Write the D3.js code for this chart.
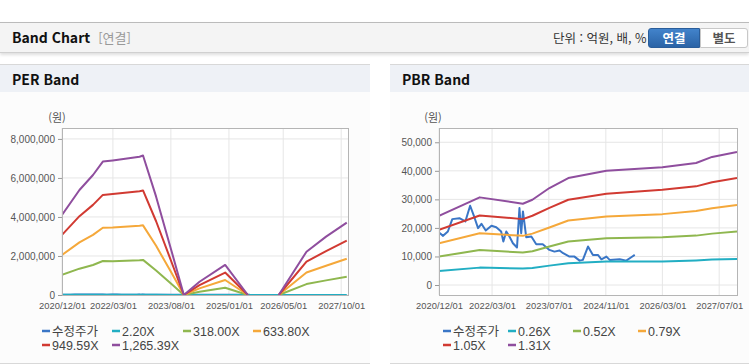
<!DOCTYPE html>
<html lang="ko">
<head>
<meta charset="utf-8">
<title>Band Chart</title>
<script src="https://cdn.jsdelivr.net/npm/d3@7"></script>
<style>
  body { margin: 0; width: 749px; height: 364px; overflow: hidden; position: relative; background: #fff;
         font-family: "Noto Sans CJK KR", "Liberation Sans", sans-serif; }
  .top-bar { position: absolute; left: 0; top: 22px; width: 749px; height: 29px; background: #f4f4f4;
             border-top: 1px solid #bbb; border-bottom: 1px solid #d0d0d0; box-shadow: 0 2px 3px rgba(0,0,0,0.13); }
  .top-bar__title { position: absolute; left: 12px; top: 6px; font-size: 14px; font-weight: bold; color: #111; line-height: 17px; }
  .top-bar__sub { color: #999; font-weight: normal; font-size: 13px; margin-left: 8px; }
  .top-bar__unit { position: absolute; left: 553px; top: 7px; font-size: 12.5px; color: #333; line-height: 16px; }
  .btn { position: absolute; top: 5px; height: 18px; font-size: 12.5px; font-weight: bold; text-align: center; line-height: 18px; }
  .btn--on { left: 648px; width: 50px; background: linear-gradient(#4283cb, #2a63a6); border: 1px solid #2a5d9a; color: #fff; border-radius: 3px 0 0 3px; }
  .btn--off { left: 700px; width: 46px; background: #fff; border: 1px solid #c8c8c8; color: #555; border-radius: 0 3px 3px 0; }
  .panel { position: absolute; top: 64px; height: 298px; background: #fcfcfc; border-top: 1px solid #d8d8d8; border-bottom: 1px solid #d8d8d8; }
  .panel__head { height: 27px; background: #eef1f6; }
  .panel__head span { position: absolute; left: 12px; top: 6px; font-size: 14px; font-weight: bold; color: #111; line-height: 17px; }
  svg { position: absolute; left: 0; top: 0; }
</style>
</head>
<body>
  <div class="top-bar">
    <div class="top-bar__title">Band Chart<span class="top-bar__sub">[연결]</span></div>
    <div class="top-bar__unit">단위 : 억원, 배, %</div>
    <div class="btn btn--on">연결</div>
    <div class="btn btn--off">별도</div>
  </div>
  <div class="panel" style="left:0;width:370px"><div class="panel__head"><span>PER Band</span></div></div>
  <div class="panel" style="left:390px;width:359px"><div class="panel__head"><span>PBR Band</span></div></div>
  <svg id="charts" width="749" height="364"></svg>

<script>
// ---- data ----
const priceDates = ["2020-12-01","2021-01-05","2021-02-15","2021-03-25","2021-05-25","2021-07-15","2021-08-25","2021-09-28","2021-11-01","2021-11-30","2022-01-06","2022-02-24","2022-04-06","2022-05-18","2022-06-06","2022-07-01","2022-07-28","2022-08-27","2022-10-01","2022-10-22","2022-11-06","2022-11-21","2022-12-19","2023-02-01","2023-03-15","2023-05-10","2023-07-06","2023-08-18","2023-10-01","2023-11-01","2023-12-25","2024-02-06","2024-03-21","2024-04-18","2024-06-01","2024-07-13","2024-08-25","2024-09-24","2024-11-06","2024-12-04","2025-02-28","2025-04-25","2025-06-07","2025-07-07"]
const price = [18380,17220,18740,23080,23400,22250,27760,24010,19910,21430,19090,20730,20260,18740,15230,18740,16990,14640,13120,26940,18160,25770,16750,17000,14290,14290,12300,11700,12100,11130,9950,9950,8540,8800,13470,10540,10540,9020,9950,8800,9000,8540,9720,10540]

const perDates = ["2020-12-01","2021-05-06","2021-09-04","2021-12-01","2022-02-27","2022-10-25","2022-11-25","2023-03-22","2023-08-04","2023-11-25","2024-04-13","2024-11-28","2025-06-19","2025-11-01","2026-03-22","2026-11-25","2027-05-19","2027-11-20"]
const per220 = [7100,9400,10700,11900,12000,12300,12400,8800,4000,0,1200,2700,0,0,0,3900,5200,6400]
const per318 = [1030000,1350000,1540000,1740000,1730000,1780000,1800000,1260000,580000,0,170000,370000,0,null,0,560000,750000,940000]
const per633 = [2050000,2700000,3080000,3450000,3460000,3550000,3570000,2520000,1160000,0,340000,770000,0,null,0,1150000,1500000,1860000]
const per949 = [3080000,4040000,4620000,5130000,5180000,5320000,5360000,3780000,1730000,0,510000,1150000,0,null,0,1710000,2250000,2790000]
const per1265 = [4100000,5380000,6150000,6840000,6900000,7090000,7150000,5040000,2310000,0,680000,1540000,0,null,0,2220000,2990000,3710000]

const pbrDates = ["2020-12-01","2021-11-15","2022-11-20","2023-02-10","2023-07-06","2023-12-15","2024-11-06","2026-03-01","2026-12-15","2027-05-01","2027-12-01"]
const pbr026 = [4920,6090,5740,5950,6790,7620,8200,8200,8600,8900,9140]
const pbr052 = [9950,12300,11360,11800,13470,15230,16400,16750,17300,18000,18740]
const pbr079 = [14640,18160,17220,18000,20140,22600,24010,24830,25900,26900,28000]
const pbr105 = [19330,24360,23080,24250,27000,29870,31980,33380,34560,36000,37470]
const pbr131 = [24250,30700,28460,29870,33970,37470,40060,41230,42750,44870,46620]

const perTicks = ["2020/12/01","2022/03/01","2023/08/01","2025/01/01","2026/05/01","2027/10/01"]
const pbrTicks = ["2020/12/01","2022/03/01","2023/07/01","2024/11/01","2026/03/01","2027/07/01"]
const perYTicks = [0, 2000000, 4000000, 6000000, 8000000]
const pbrYTicks = [0, 10000, 20000, 30000, 40000, 50000]

const perNames = ["수정주가","2.20X","318.00X","633.80X","949.59X","1,265.39X"]
const pbrNames = ["수정주가","0.26X","0.52X","0.79X","1.05X","1.31X"]
const colors = ["#3a76c6","#22aec3","#8fb74f","#f5a83a","#d13a32","#8f4e9e"]

// ---- drawing ----
const parseDate = d3.timeParse("%Y-%m-%d")
const parseTick = d3.timeParse("%Y/%m/%d")
const fmt = d3.format(",")
const svg = d3.select("#charts")

function drawBand(cfg) {
    const x = d3.scaleTime()
        .domain([parseDate("2020-12-01"), parseDate("2027-12-01")])
        .range([cfg.left, cfg.right])
    const y = d3.scaleLinear().domain(cfg.yDomain).range([cfg.bottom, cfg.top])

    const g = svg.append("g")

    g.append("rect")
        .attr("x", cfg.left).attr("y", cfg.top)
        .attr("width", cfg.right - cfg.left).attr("height", cfg.bottom - cfg.top)
        .attr("fill", "#fff")

    // grid
    g.selectAll(".vgrid").data(cfg.xTicks).join("line")
        .attr("x1", d => x(parseTick(d))).attr("x2", d => x(parseTick(d)))
        .attr("y1", cfg.top).attr("y2", cfg.bottom)
        .attr("stroke", "#e6e6e6")
    g.selectAll(".hgrid").data(cfg.yTicks).join("line")
        .attr("x1", cfg.left).attr("x2", cfg.right)
        .attr("y1", d => y(d)).attr("y2", d => y(d))
        .attr("stroke", "#e6e6e6")

    // axes
    const yAxis = g.append("g")
        .attr("transform", "translate(" + cfg.left + ",0)")
        .call(d3.axisLeft(y).tickValues(cfg.yTicks).tickFormat(fmt).tickSize(4).tickPadding(3))
    yAxis.select(".domain").remove()
    yAxis.selectAll("line").attr("stroke", "#999")
    yAxis.selectAll("text").attr("fill", "#555").style("font-family", "Liberation Sans, sans-serif").style("font-size", "10px")

    const xAxis = g.append("g")
        .attr("transform", "translate(0," + cfg.bottom + ")")
        .call(d3.axisBottom(x).tickValues(cfg.xTicks.map(parseTick)).tickFormat(d3.timeFormat("%Y/%m/%d")).tickSize(0).tickPadding(7))
    xAxis.select(".domain").remove()
    xAxis.selectAll("text").attr("fill", "#555").style("font-family", "Liberation Sans, sans-serif").style("font-size", "9.4px")

    g.append("text")
        .attr("x", cfg.unitX).attr("y", 122)
        .attr("text-anchor", "middle")
        .attr("fill", "#555").style("font-size", "11px")
        .text("(원)")

    // lines
    const clipId = "clip-" + cfg.id
    svg.append("clipPath").attr("id", clipId).append("rect")
        .attr("x", cfg.left).attr("y", cfg.top)
        .attr("width", cfg.right - cfg.left).attr("height", cfg.bottom - cfg.top + 2)

    const line = d3.line()
        .defined(d => d.value !== null)
        .x(d => x(d.date)).y(d => y(d.value))

    cfg.series.forEach((s, i) => {
        g.append("path")
            .datum(s.dates.map((d, j) => ({ date: parseDate(d), value: s.values[j] })))
            .attr("clip-path", "url(#" + clipId + ")")
            .attr("fill", "none")
            .attr("stroke", colors[i])
            .attr("stroke-width", 2)
            .attr("stroke-linejoin", "round")
            .attr("d", line)
    })

    // plot border
    g.append("rect")
        .attr("x", cfg.left + 0.5).attr("y", cfg.top + 0.5)
        .attr("width", cfg.right - cfg.left).attr("height", cfg.bottom - cfg.top)
        .attr("fill", "none").attr("stroke", "#b5b5b5")

    // legend
    const leg = g.selectAll(".legend").data(cfg.names).join("g")
        .attr("transform", (d, i) => "translate(" + cfg.legendX[i % 4] + "," + (331 + Math.floor(i / 4) * 14) + ")")
    leg.append("line")
        .attr("x1", 0).attr("x2", 8).attr("y1", 0).attr("y2", 0)
        .attr("stroke", (d, i) => colors[i]).attr("stroke-width", 2.5)
    leg.append("text")
        .attr("x", 10).attr("y", 4.5)
        .attr("fill", "#444")
        .style("font-family", "Liberation Sans, Noto Sans CJK KR, sans-serif")
        .style("font-size", "12.5px")
        .text(d => d)
}

drawBand({
    id: "per", left: 62, right: 348, top: 128, bottom: 295,
    yDomain: [0, 8560000], yTicks: perYTicks, xTicks: perTicks, unitX: 57,
    names: perNames, legendX: [42, 112, 183, 253],
    series: [
        { dates: priceDates, values: price },
        { dates: perDates, values: per220 },
        { dates: perDates, values: per318 },
        { dates: perDates, values: per633 },
        { dates: perDates, values: per949 },
        { dates: perDates, values: per1265 }
    ]
})

drawBand({
    id: "pbr", left: 439, right: 737, top: 128, bottom: 295,
    yDomain: [-3500, 55000], yTicks: pbrYTicks, xTicks: pbrTicks, unitX: 433,
    names: pbrNames, legendX: [443, 508, 573, 638],
    series: [
        { dates: priceDates, values: price },
        { dates: pbrDates, values: pbr026 },
        { dates: pbrDates, values: pbr052 },
        { dates: pbrDates, values: pbr079 },
        { dates: pbrDates, values: pbr105 },
        { dates: pbrDates, values: pbr131 }
    ]
})
</script>
</body>
</html>
